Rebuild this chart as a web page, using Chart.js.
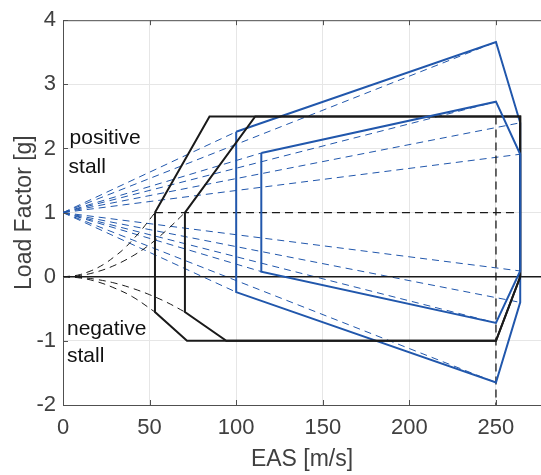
<!DOCTYPE html>
<html><head><meta charset="utf-8">
<script src="https://cdn.jsdelivr.net/npm/chart.js@4/dist/chart.umd.min.js"></script>
<style>html,body{margin:0;padding:0;background:#fff}</style>
</head><body>
<canvas id="c" width="541" height="475"></canvas>
<script>
// ---- data ----
const xTickValues = [0, 50, 100, 150, 200, 250];
const yTickValues = [-2, -1, 0, 1, 2, 3, 4];
const xMin = 0, xMax = 276, yMin = -2, yMax = 4;

// black manoeuvre envelopes
const env1X = [53.1, 84.6, 264, 264, 250, 71.6, 53.1, 53.1];
const env1Y = [1, 2.5, 2.5, 0, -1, -1, -0.55, 1];
const env2X = [70.4, 111, 264, 264, 250, 94.3, 70.4, 70.4];
const env2Y = [1, 2.5, 2.5, 0, -1, -1, -0.55, 1];

// black dashed stall curves
const stallPos1X = [0, 5, 10, 15, 20, 25, 30, 35, 40, 45, 53.1];
const stallPos1Y = [0, 0.01, 0.035, 0.08, 0.14, 0.22, 0.32, 0.43, 0.57, 0.72, 1.0];
const stallPos2X = [0, 10, 20, 30, 40, 50, 60, 70.4];
const stallPos2Y = [0, 0.02, 0.08, 0.18, 0.32, 0.50, 0.73, 1.0];
const stallNeg1X = [0, 10, 20, 30, 40, 53.1];
const stallNeg1Y = [0, -0.02, -0.08, -0.18, -0.31, -0.55];
const stallNeg2X = [0, 10, 20, 30, 40, 50, 60, 70.4];
const stallNeg2Y = [0, -0.011, -0.045, -0.10, -0.18, -0.28, -0.40, -0.55];

// black dashed reference lines
const level1X = [53.1, 264];
const level1Y = [1, 1];
const vcLineX = [250, 250];
const vcLineY = [2.5, -2];
const zeroLineX = [0, 276];
const zeroLineY = [0, 0];

// blue gust envelopes
const gustOuterX = [100, 250, 264, 264, 250, 100, 100];
const gustOuterY = [2.26, 3.66, 2.4, -0.4, -1.65, -0.24, 2.26];
const gustInnerX = [114.5, 250, 264, 264, 250, 114.5, 114.5];
const gustInnerY = [1.93, 2.73, 1.91, 0.09, -0.72, 0.08, 1.93];

// blue dashed gust lines, all from (0, 1)
const gustOriginX = 0, gustOriginY = 1;
const gustEndX = [100, 250, 264, 114.5, 250, 264, 100, 250, 264, 114.5, 250, 264];
const gustEndY = [2.26, 3.66, 2.4, 1.93, 2.73, 1.91, -0.24, -1.65, -0.4, 0.08, -0.72, 0.09];

// text annotations
const noteTexts = ['positive', 'stall', 'negative', 'stall'];
const noteX = [3.8, 3.2, 2.3, 2.3];
const noteY = [2.065, 1.615, -0.903, -1.328];

// ---- styles ----
const BLUE = '#2157ac';
const BLACK = '#1a1a1a';
const FONT = '"Liberation Sans", Arial, Helvetica, sans-serif';
const TXT = '#404040';

const zip = (xs, ys) => xs.map((v, i) => ({x: v, y: ys[i]}));
const ds = (xs, ys, color, width, dash, order, tension) => ({
  data: zip(xs, ys), borderColor: color, borderWidth: width, borderDash: dash || [],
  pointRadius: 0, showLine: true, fill: false, order: order, tension: tension || 0
});

const datasets = [];
gustEndX.forEach((gx, i) => datasets.push(ds([gustOriginX, gx], [gustOriginY, gustEndY[i]], BLUE, 1, [7, 5], 8)));
datasets.push(ds(stallPos1X, stallPos1Y, BLACK, 1, [7, 5], 7, 0.4));
datasets.push(ds(stallPos2X, stallPos2Y, BLACK, 1, [7, 5], 7, 0.4));
datasets.push(ds(stallNeg1X, stallNeg1Y, BLACK, 1, [7, 5], 7, 0.4));
datasets.push(ds(stallNeg2X, stallNeg2Y, BLACK, 1, [7, 5], 7, 0.4));
datasets.push(ds(level1X, level1Y, BLACK, 1.3, [8, 5], 6));
datasets.push(ds(vcLineX, vcLineY, BLACK, 1.3, [8, 5], 6));
datasets.push(ds(zeroLineX, zeroLineY, BLACK, 1.5, [], 5));
datasets.push(ds(gustOuterX, gustOuterY, BLUE, 2, [], 4));
datasets.push(ds(env1X, env1Y, BLACK, 2, [], 3));
datasets.push(ds(env2X, env2Y, BLACK, 2, [], 3));
datasets.push(ds(gustInnerX, gustInnerY, BLUE, 2, [], 2));

const framePlugin = {
  id: 'frame',
  afterDraw(chart) {
    const {ctx, chartArea: a, scales: {x, y}} = chart;
    ctx.save();
    ctx.strokeStyle = '#505050';
    ctx.lineWidth = 1;
    ctx.beginPath();
    ctx.moveTo(a.left, a.top + 0.5); ctx.lineTo(a.right, a.top + 0.5);
    xTickValues.forEach(v => {
      const px = Math.round(x.getPixelForValue(v)) + 0.5;
      ctx.moveTo(px, a.bottom); ctx.lineTo(px, a.bottom - 5);
      ctx.moveTo(px, a.top); ctx.lineTo(px, a.top + 5);
    });
    yTickValues.forEach(v => {
      const py = Math.round(y.getPixelForValue(v)) + 0.5;
      ctx.moveTo(a.left, py); ctx.lineTo(a.left + 5, py);
    });
    ctx.stroke();
    ctx.fillStyle = '#111';
    ctx.font = '21px ' + FONT;
    ctx.textBaseline = 'alphabetic';
    ctx.textAlign = 'left';
    noteTexts.forEach((t, i) => ctx.fillText(t, x.getPixelForValue(noteX[i]), y.getPixelForValue(noteY[i])));
    ctx.restore();
  }
};

new Chart(document.getElementById('c'), {
  type: 'scatter',
  data: {datasets},
  plugins: [framePlugin],
  options: {
    responsive: false, animation: false, devicePixelRatio: 1,
    layout: {padding: {left: 0, top: 18, right: 0, bottom: 0}},
    plugins: {legend: {display: false}, tooltip: {enabled: false}},
    scales: {
      x: {
        type: 'linear', min: xMin, max: xMax,
        afterBuildTicks: s => { s.ticks = xTickValues.map(v => ({value: v})); },
        afterFit: s => { s.height = 70; },
        grid: {color: '#e6e6e6', drawTicks: false, lineWidth: 1},
        border: {display: true, color: '#505050', width: 1},
        ticks: {padding: 10, color: TXT, font: {family: FONT, size: 22}, maxRotation: 0},
        title: {display: true, text: 'EAS [m/s]', color: TXT, font: {family: FONT, size: 23}, padding: {top: 0, bottom: 2}}
      },
      y: {
        type: 'linear', min: yMin, max: yMax,
        afterBuildTicks: s => { s.ticks = yTickValues.map(v => ({value: v})); },
        afterFit: s => { s.width = 63; },
        grid: {color: '#e6e6e6', drawTicks: false, lineWidth: 1},
        border: {display: true, color: '#505050', width: 1},
        ticks: {padding: 7, color: TXT, font: {family: FONT, size: 22}},
        title: {display: true, text: 'Load Factor [g]', color: TXT, font: {family: FONT, size: 23}, padding: {top: 11, bottom: 0}}
      }
    }
  }
});
</script>
</body></html>
